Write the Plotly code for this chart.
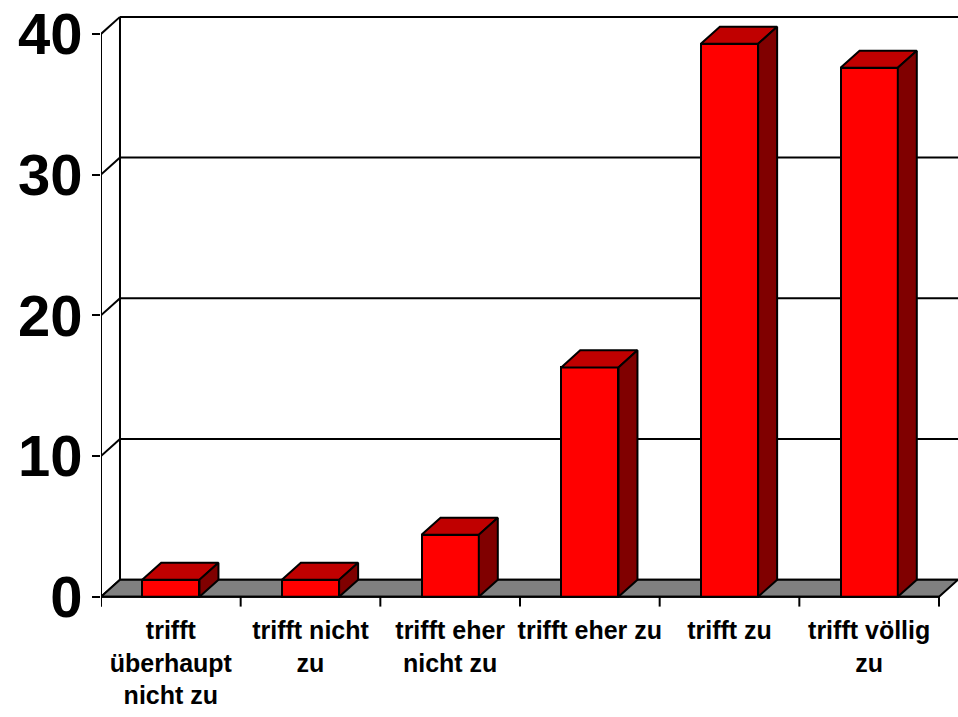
import plotly.graph_objects as go

# Survey answer categories and share of responses (%)
categories = [
    "trifft<br>überhaupt<br>nicht zu",
    "trifft nicht<br>zu",
    "trifft eher<br>nicht zu",
    "trifft eher zu",
    "trifft zu",
    "trifft völlig<br>zu",
]
values = [1.2, 1.2, 4.4, 16.3, 39.3, 37.6]
y_ticks = [0, 10, 20, 30, 40]

# pseudo-3D geometry in data units
BAR_W = 0.41      # front face width (category units)
DEPTH_X = 0.136   # horizontal depth offset
DEPTH_Y = 1.21    # vertical depth offset
X_MIN = -0.5
X_MAX = len(categories) - 0.5
X_RANGE = [X_MIN, X_MAX + DEPTH_X]
Y_RANGE = [-0.8, 42.41]

RED = "#FF0000"
RED_TOP = "#C00000"
RED_SIDE = "#800000"
FLOOR = "#808080"
LW = 2

positions = list(range(len(categories)))

fig = go.Figure()

# front faces of the columns
fig.add_trace(go.Bar(
    x=positions, y=values, width=BAR_W,
    marker=dict(color=RED, line=dict(color="black", width=LW)),
    hoverinfo="skip", showlegend=False,
))

# top and side faces
for xi, v in zip(positions, values):
    l, r = xi - BAR_W / 2, xi + BAR_W / 2
    fig.add_trace(go.Scatter(
        x=[l, r, r + DEPTH_X, l + DEPTH_X, l],
        y=[v, v, v + DEPTH_Y, v + DEPTH_Y, v],
        mode="lines", fill="toself", fillcolor=RED_TOP,
        line=dict(color="black", width=LW),
        hoverinfo="skip", showlegend=False,
    ))
    fig.add_trace(go.Scatter(
        x=[r, r + DEPTH_X, r + DEPTH_X, r, r],
        y=[0, DEPTH_Y, v + DEPTH_Y, v, 0],
        mode="lines", fill="toself", fillcolor=RED_SIDE,
        line=dict(color="black", width=LW),
        hoverinfo="skip", showlegend=False,
    ))

shapes = []
line_style = dict(color="black", width=LW)

# back wall gridlines and side wall diagonals
for t in y_ticks:
    shapes.append(dict(type="line", xref="x", yref="y", layer="below",
                       x0=X_MIN + DEPTH_X, x1=X_RANGE[1],
                       y0=t + DEPTH_Y, y1=t + DEPTH_Y, line=line_style))
    shapes.append(dict(type="line", xref="x", yref="y", layer="below",
                       x0=X_MIN, x1=X_MIN + DEPTH_X,
                       y0=t, y1=t + DEPTH_Y, line=line_style))
# back wall edge
shapes.append(dict(type="line", xref="x", yref="y", layer="below",
                   x0=X_MIN + DEPTH_X, x1=X_MIN + DEPTH_X,
                   y0=DEPTH_Y, y1=y_ticks[-1] + DEPTH_Y, line=line_style))
# floor
shapes.append(dict(
    type="path", xref="x", yref="y", layer="below",
    path=(f"M {X_MIN},0 L {X_MAX},0 L {X_MAX + DEPTH_X},{DEPTH_Y} "
          f"L {X_MIN + DEPTH_X},{DEPTH_Y} Z"),
    fillcolor=FLOOR, line=line_style,
))
# front value axis
shapes.append(dict(type="line", xref="x", yref="y", layer="above",
                   x0=X_MIN, x1=X_MIN, y0=-0.7, y1=y_ticks[-1],
                   line=line_style))
# front category axis with tick marks at category boundaries
shapes.append(dict(type="line", xref="x", yref="y", layer="above",
                   x0=X_MIN, x1=X_MAX, y0=0, y1=0, line=line_style))
for k in range(len(categories) + 1):
    b = X_MIN + k
    shapes.append(dict(type="line", xref="x", yref="y", layer="above",
                       x0=b, x1=b, y0=0, y1=-0.7, line=line_style))

fig.update_layout(
    width=958, height=717,
    margin=dict(l=101, r=0, t=0, b=109),
    paper_bgcolor="white", plot_bgcolor="white",
    shapes=shapes,
    showlegend=False,
    bargap=0,
)
fig.update_xaxes(
    range=X_RANGE, tickvals=positions, ticktext=categories,
    showgrid=False, zeroline=False, showline=False, ticks="",
    tickfont=dict(family="Liberation Sans, Arial, sans-serif", size=25,
                  color="black", weight="bold"),
    ticklabelstandoff=5,
)
fig.update_yaxes(
    range=Y_RANGE, tickvals=y_ticks,
    showgrid=False, zeroline=False, showline=False,
    ticks="outside", ticklen=8, tickwidth=LW, tickcolor="black",
    tickfont=dict(family="Liberation Sans Narrow, Arial Narrow, Liberation Sans, sans-serif",
                  size=58, color="black", weight="bold"),
    ticklabelstandoff=-2,
)

fig.write_html("out.html")
